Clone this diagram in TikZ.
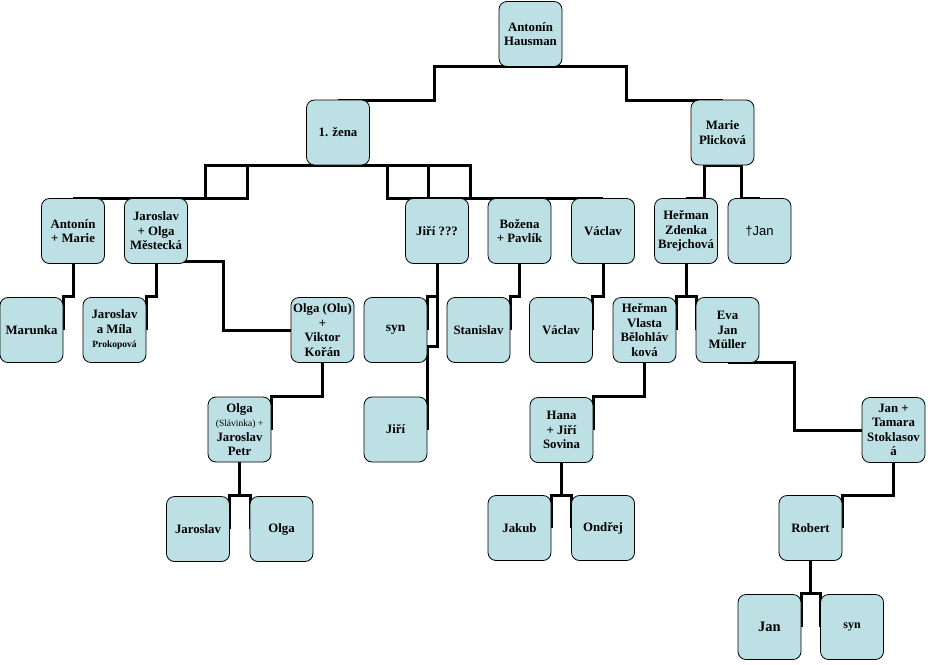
\documentclass[tikz,border=0pt]{standalone}
\usepackage{fontspec}
\setmainfont{Liberation Serif}
\setsansfont{Liberation Sans}
\usetikzlibrary{calc,backgrounds}

\definecolor{boxblue}{RGB}{189,224,228}

\begin{document}
\begin{tikzpicture}[
  x=1pt, y=-1pt,
  person/.style={draw, fill=boxblue, line width=0.8pt, rounded corners=8pt,
                 minimum width=63pt, minimum height=65pt, inner sep=2pt, outer sep=0pt,
                 align=center, font=\bfseries\fontsize{12.8}{14.5}\selectfont},
  link/.style={line width=3pt},
  hvh/.style={link, to path={-| ($(\tikztostart)!.5!(\tikztotarget)$) |- (\tikztotarget)}},
  vhv/.style={link, to path={|- ($(\tikztostart)!.5!(\tikztotarget)$) -| (\tikztotarget)}},
]
\useasboundingbox (0,0) rectangle (928,664);

%% ═══ GENERATIONS 1-2 ═════════════════════════════════════════════════
\node[person] (hausman)  at (530.5, 34)  {Antonín\\Hausman};
\node[person] (zena)     at (338, 132.5) {1. žena};
\node[person] (plickova) at (722.5, 132.5) {Marie\\Plicková};

%% ═══ GENERATION 3 ════════════════════════════════════════════════════
\node[person] (antmarie) at (73, 231)    {Antonín\\+ Marie};
\node[person] (jarolga)  at (156, 231)   {Jaroslav\\+ Olga\\Městecká};
\node[person] (jiri)     at (437, 231)   {Jiří ???};
\node[person] (bozena)   at (519.5, 231) {Božena\\+ Pavlík};
\node[person] (vaclav)   at (603, 231)   {Václav};
\node[person] (hermanz)  at (686, 231)   {Heřman\\Zdenka\\Brejchová};
\node[person, font=\sffamily\fontsize{13}{15}\selectfont]
              (jandead)  at (759.5, 231) {†Jan};

%% ═══ GENERATION 4 ════════════════════════════════════════════════════
\node[person] (marunka)  at (31.5, 330)  {Marunka};
\node[person] (jaromila) at (114.5, 330) {Jaroslav\\a Míla\\{\fontsize{9.5}{11}\selectfont Prokopová}};
\node[person] (olgaolu)  at (322.5, 330) {Olga (Olu)\\+\\Viktor\\Kořán};
\node[person, font=\bfseries\fontsize{13.5}{15}\selectfont]
              (synjiri)  at (395.5, 330) {syn};
\node[person] (stanislav) at (478.5, 330) {Stanislav};
\node[person] (vaclavml) at (561, 330)   {Václav};
\node[person] (hermanv)  at (644.5, 330) {Heřman\\Vlasta\\Bělohláv\\ková};
\node[person] (eva)      at (727.5, 330) {Eva\\Jan\\Müller};

%% ═══ GENERATION 5 ════════════════════════════════════════════════════
\node[person] (slavinka) at (239.5, 429.5) {Olga\\{\mdseries\fontsize{9.5}{11}\selectfont(Slávinka) +}\\Jaroslav\\Petr};
\node[person] (jiriml)   at (395.5, 429.5) {Jiří};
\node[person] (hana)     at (561.5, 430)   {Hana\\+ Jiří\\Sovina};
\node[person] (tamara)   at (893.5, 430)   {Jan +\\Tamara\\Stoklasov\\á};

%% ═══ GENERATIONS 6-7 ═════════════════════════════════════════════════
\node[person] (jaroslavp) at (198, 529)  {Jaroslav};
\node[person] (olgap)    at (281.5, 529) {Olga};
\node[person] (jakub)    at (519.5, 528) {Jakub};
\node[person] (ondrej)   at (603, 528)   {Ondřej};
\node[person] (robert)   at (810.5, 528) {Robert};
\node[person, font=\bfseries\fontsize{14.5}{16}\selectfont]
              (janr)     at (769.5, 627) {Jan};
\node[person, font=\bfseries\fontsize{12}{14}\selectfont]
              (synr)     at (852, 627)   {syn};

% connectors run behind the boxes
\begin{pgfonlayer}{background}
% top: spouses and their children
\draw[hvh] (hausman.south) to (zena.north);
\draw[hvh] (hausman.south) to (plickova.north);
\foreach \kid in {antmarie, jarolga, jiri, bozena, vaclav}
  \draw[hvh] (zena.south) to (\kid.north);
\foreach \kid in {hermanz, jandead}
  \draw[hvh] (plickova.south) to (\kid.north);

% children hanging on the side
\draw[vhv] (antmarie.south) to (marunka.east);
\draw[vhv] (jarolga.south)  to (jaromila.east);
\draw[hvh] ([yshift=2pt]jarolga.south) to (olgaolu.west);
\draw[vhv] (jiri.south)     to (synjiri.east);
\draw[vhv] (jiri.south)     to (jiriml.east);
\draw[vhv] (bozena.south)   to (stanislav.east);
\draw[vhv] (vaclav.south)   to (vaclavml.east);
\draw[vhv] (hermanz.south)  to (hermanv.east);
\draw[vhv] (hermanz.south)  to (eva.west);

\draw[vhv] (olgaolu.south)  to (slavinka.east);
\draw[vhv] (hermanv.south)  to (hana.east);
\draw[hvh] (eva.south)      to (tamara.west);

\draw[vhv] (slavinka.south) to (jaroslavp.east);
\draw[vhv] (slavinka.south) to (olgap.west);
\draw[vhv] (hana.south)     to (jakub.east);
\draw[vhv] (hana.south)     to (ondrej.west);
\draw[vhv] (tamara.south)   to (robert.east);
\draw[vhv] (robert.south)   to (janr.east);
\draw[vhv] (robert.south)   to (synr.west);
\end{pgfonlayer}

\end{tikzpicture}
\end{document}
